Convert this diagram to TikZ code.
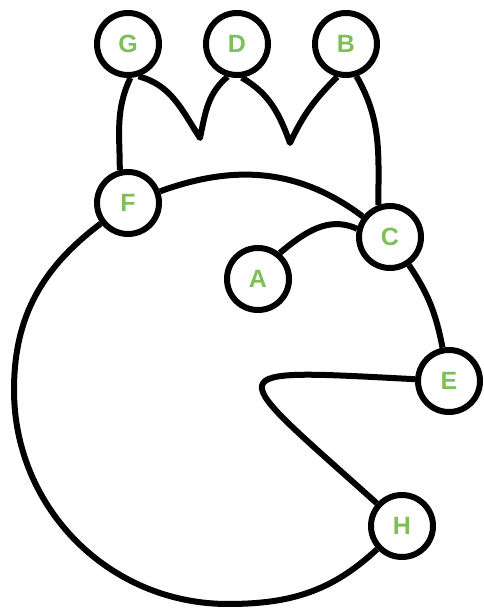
\documentclass[tikz,border=0pt]{standalone}
\usepackage{fontspec}
\setmainfont{Liberation Sans}
\definecolor{lettergreen}{RGB}{126,192,88}
\tikzset{
  vtx/.style={circle, draw=black, line width=6pt, fill=white, minimum size=62pt, inner sep=0pt,
    font=\fontsize{25}{26}\selectfont\bfseries, text=lettergreen},
  conn/.style={draw=black, line width=6pt, line join=round}
}
\begin{document}
\begin{tikzpicture}[x=1pt,y=1pt]
\useasboundingbox (0,0) rectangle (483,611);
% nodes
\node[vtx] (G) at (128,567) {G};
\node[vtx] (D) at (237,567) {D};
\node[vtx] (B) at (346,567) {B};
\node[vtx] (F) at (128,408) {F};
\node[vtx] (C) at (390,374) {C};
\node[vtx] (A) at (258,332) {A};
\node[vtx] (E) at (449,230) {E};
\node[vtx] (H) at (402,85) {H};
% waypoints
\coordinate (v1) at (200,473);
\coordinate (v2) at (290,468);
\coordinate (L) at (14,221);
\coordinate (Bt) at (228,7);
% crown
\draw[conn] (G.-86) to[out=-115,in=90] (F.104);
\draw[conn] (G.-72) to[out=-15,in=123] (v1) to[out=78,in=-140] (D.-106);
\draw[conn] (D.-82) to[out=-30,in=110] (v2) to[out=65,in=-135] (B.-105);
\draw[conn] (B.-72) to[out=-60,in=90] (C.110);
% big ring
\draw[conn] (F) to[out=20,in=143] (C);
\draw[conn] (C) to[out=-56,in=101] (E);
\draw[conn] (F) to[out=217,in=90] (L) to[out=-90,in=180] (Bt) to[out=0,in=223] (H);
% inner curves
\draw[conn] (A.50) to[out=40,in=155] (C.166);
\draw[conn] (E) to[out=177,in=138,distance=205pt] (H);
\end{tikzpicture}
\end{document}
